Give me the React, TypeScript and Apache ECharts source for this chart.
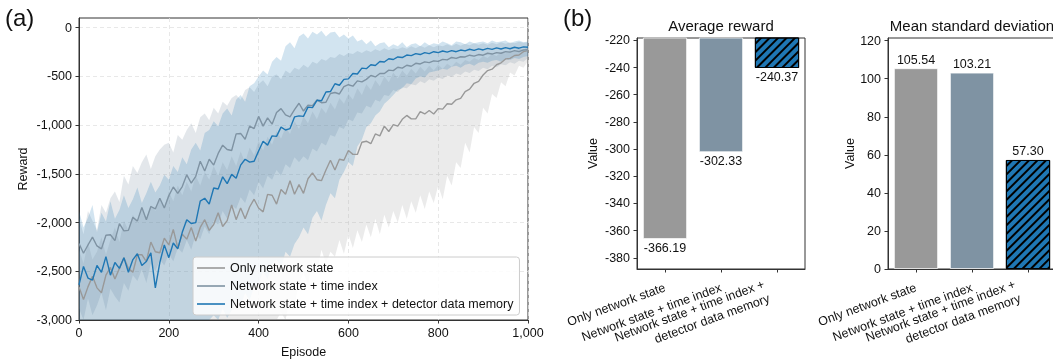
import React, { useEffect, useRef } from 'react';
import * as echarts from 'echarts';

const FONT = '"Liberation Sans", Arial, Helvetica, sans-serif';

// Episode sample positions (every 10 episodes)
const episodes = Array.from({ length: 101 }, (_, i) => i * 10);

const seriesNames = [
  'Only network state',
  'Network state + time index',
  'Network state + time index + detector data memory',
];

// Mean reward curves (one value per 10 episodes)
const meanOnlyState = [
  -2660, -2790, -2660, -2550, -2670, -2720, -2540, -2460, -2580, -2470,
  -2360, -2470, -2510, -2330, -2330, -2400, -2200, -2300, -2310, -2160,
  -2230, -2070, -2260, -2120, -2170, -2050, -2190, -2050, -1970, -2080,
  -2020, -1900, -2040, -1980, -1820, -1970, -1850, -1960, -1840, -1760,
  -1850, -1890, -1710, -1720, -1810, -1660, -1710, -1570, -1710, -1610,
  -1700, -1550, -1490, -1560, -1570, -1460, -1360, -1460, -1350, -1360,
  -1260, -1300, -1300, -1175, -1165, -1190, -1090, -1110, -1010, -1065,
  -995, -1010, -940, -900, -935, -935, -860, -885, -850, -885,
  -830, -835, -780, -785, -740, -725, -655, -630, -570, -550,
  -485, -440, -425, -380, -360, -320, -315, -285, -280, -245,
  -235,
];
const meanTimeIndex = [
  -2215, -2315, -2230, -2150, -2240, -2270, -2130, -2125, -2185, -2010,
  -2085, -2080, -1945, -1985, -1845, -1970, -1835, -1860, -1750, -1850,
  -1725, -1635, -1700, -1630, -1510, -1595, -1525, -1370, -1470, -1350,
  -1410, -1290, -1205, -1250, -1260, -1090, -1085, -1145, -1010, -1035,
  -910, -1010, -925, -990, -870, -830, -895, -915, -840, -775,
  -855, -795, -800, -740, -770, -765, -675, -665, -680, -605,
  -585, -600, -545, -555, -530, -490, -505, -470, -470, -435,
  -440, -405, -415, -385, -395, -365, -372, -350, -358, -340,
  -345, -325, -330, -305, -315, -298, -300, -282, -292, -275,
  -282, -262, -270, -255, -262, -245, -250, -235, -245, -228,
  -225,
];
const meanDetector = [
  -2640, -2450, -2570, -2590, -2440, -2510, -2350, -2540, -2410, -2470,
  -2360, -2510, -2380, -2320, -2440, -2400, -2310, -2670, -2410, -2230,
  -2360, -2210, -2270, -2100, -1970, -2010, -2000, -1780, -1750, -1810,
  -1645, -1655, -1530, -1600, -1505, -1545, -1410, -1350, -1380, -1370,
  -1265, -1165, -1205, -1110, -1115, -1020, -1050, -1035, -915, -905,
  -910, -815, -820, -745, -750, -660, -655, -575, -590, -530,
  -525, -470, -475, -415, -420, -380, -387, -346, -352, -318,
  -326, -300, -306, -280, -286, -266, -275, -256, -266, -246,
  -256, -239, -250, -235, -246, -229, -238, -221, -232, -217,
  -228, -212, -222, -206, -218, -204, -216, -200, -210, -196,
  -200,
];

// Shaded spread bands (lower / upper)
const bandOnlyStateLow = [
  -3000, -3000, -3000, -3000, -3000, -3000, -3000, -3000, -3000, -3000,
  -3000, -3000, -3000, -3000, -3000, -3000, -3000, -3000, -3000, -3000,
  -3000, -3000, -3000, -3000, -3000, -3000, -3000, -3000, -3000, -3000,
  -3000, -3000, -3000, -3000, -3000, -3000, -3000, -3000, -3000, -3000,
  -3000, -3000, -3000, -3000, -3000, -2920, -3000, -2780, -2850, -2620,
  -2520, -2640, -2380, -2500, -2280, -2420, -2300, -2350, -2180, -2320,
  -2120, -2260, -2080, -2200, -2020, -2150, -1960, -2120, -1920, -2050,
  -1880, -2000, -1820, -1960, -1780, -1900, -1720, -1860, -1680, -1800,
  -1620, -1760, -1520, -1620, -1380, -1440, -1180, -1280, -1020, -1080,
  -820, -880, -680, -720, -560, -600, -460, -490, -390, -410,
  -340,
];
const bandOnlyStateHigh = [
  -2280, -2420, -2200, -2380, -2300, -2150, -2330, -2180, -2050, -2200,
  -1980, -2080, -1920, -2010, -1870, -1960, -1820, -1880, -1760, -1850,
  -1680, -1780, -1620, -1720, -1580, -1680, -1520, -1620, -1480, -1560,
  -1420, -1520, -1380, -1460, -1320, -1420, -1270, -1380, -1230, -1310,
  -1160, -1260, -1120, -1200, -1060, -1140, -1020, -1090, -960, -1040,
  -910, -980, -860, -940, -820, -880, -770, -840, -720, -780,
  -680, -740, -620, -690, -580, -640, -540, -600, -500, -560,
  -460, -520, -440, -490, -420, -470, -400, -450, -390, -440,
  -380, -420, -370, -400, -350, -380, -330, -350, -310, -330,
  -290, -310, -270, -290, -250, -265, -230, -245, -210, -225,
  -190,
];
const bandTimeIndexLow = [
  -2880, -3000, -2780, -2950, -2850, -2720, -2900, -2680, -2760, -2820,
  -2620, -2700, -2540, -2600, -2480, -2620, -2420, -2500, -2380, -2440,
  -2320, -2400, -2260, -2310, -2180, -2280, -2120, -2170, -2040, -2120,
  -1980, -2020, -1880, -1960, -1820, -1860, -1740, -1800, -1660, -1720,
  -1580, -1650, -1520, -1560, -1460, -1520, -1400, -1440, -1330, -1380,
  -1320, -1360, -1240, -1270, -1180, -1210, -1100, -1120, -1020, -1040,
  -940, -960, -870, -880, -800, -820, -740, -760, -690, -700,
  -640, -660, -610, -620, -580, -590, -550, -570, -530, -545,
  -510, -525, -490, -505, -470, -485, -450, -465, -430, -445,
  -410, -425, -390, -405, -375, -385, -355, -370, -340, -350,
  -310,
];
const bandTimeIndexHigh = [
  -1950, -2120, -1880, -1980, -2080, -1820, -1900, -1750, -1680, -1790,
  -1520, -1610, -1420, -1490, -1380, -1300, -1450, -1320, -1250, -1200,
  -1180, -1280, -1100, -1150, -1050, -980, -1080, -920, -880, -950,
  -820, -880, -760, -800, -720, -690, -740, -640, -610, -660,
  -580, -540, -600, -500, -480, -530, -440, -470, -410, -430,
  -380, -410, -350, -370, -320, -340, -300, -310, -270, -290,
  -260, -270, -240, -260, -230, -250, -220, -240, -210, -230,
  -210, -220, -200, -215, -190, -210, -185, -205, -180, -200,
  -180, -190, -170, -190, -165, -185, -165, -180, -160, -175,
  -160, -175, -155, -170, -150, -165, -150, -160, -145, -155,
  -150,
];
const bandDetectorLow = [
  -3000, -3000, -3000, -3000, -3000, -3000, -3000, -3000, -3000, -3000,
  -3000, -3000, -3000, -3000, -3000, -3000, -3000, -3000, -3000, -3000,
  -3000, -3000, -3000, -3000, -3000, -3000, -3000, -3000, -3000, -3000,
  -2950, -3000, -2880, -2980, -2900, -2780, -2850, -2720, -2800, -2650,
  -2620, -2500, -2580, -2420, -2380, -2460, -2300, -2350, -2220, -2150,
  -2050, -2120, -1950, -1880, -1980, -1820, -1700, -1750, -1560, -1480,
  -1380, -1420, -1220, -1150, -1020, -980, -900, -860, -780, -740,
  -690, -640, -620, -570, -580, -520, -500, -510, -460, -450,
  -440, -420, -430, -400, -390, -410, -380, -370, -390, -360,
  -350, -360, -340, -330, -350, -320, -330, -310, -320, -300,
  -290,
];
const bandDetectorHigh = [
  -1880, -2050, -1950, -1820, -2100, -1900, -1990, -1780, -1960, -1870,
  -1720, -1850, -1760, -1640, -1800, -1700, -1580, -1690, -1620, -1510,
  -1560, -1420, -1480, -1330, -1400, -1250, -1180, -1260, -1080, -1050,
  -960, -1010, -880, -830, -900, -740, -690, -760, -600, -570,
  -500, -440, -480, -350, -300, -340, -190, -150, -210, -90,
  -60, -110, -40, -70, -30, -90, -50, -40, -100, -70,
  -110, -80, -140, -120, -170, -130, -190, -160, -150, -200,
  -170, -190, -150, -200, -170, -160, -190, -150, -180, -160,
  -170, -140, -160, -180, -140, -150, -170, -140, -160, -150,
  -140, -160, -130, -150, -140, -130, -160, -140, -130, -150,
  -140,
];

// Tick labels
const rewardTicks = [0, -500, -1000, -1500, -2000, -2500, -3000];
const episodeTicks = [0, 200, 400, 600, 800, 1000];
const avgRewardTicks = [-380, -360, -340, -320, -300, -280, -260, -240, -220];
const stdTicks = [0, 20, 40, 60, 80, 100, 120];

// Bar panel data
const barCategories = [
  'Only network state',
  'Network state + time index',
  'Network state + time index +\ndetector data memory',
];
const avgReward = [-366.19, -302.33, -240.37];
const meanStd = [105.54, 103.21, 57.3];

const lineColors = ['#999999', '#7f93a3', '#1f77b4'];
const bandColors = ['rgba(153,153,153,0.2)', 'rgba(127,147,163,0.22)', 'rgba(31,119,180,0.2)'];

const fmtThousands = (v: number) => v.toLocaleString('en-US');

function bandSeries(name: string, low: number[], high: number[], fill: string) {
  return {
    type: 'custom',
    name,
    xAxisIndex: 0,
    yAxisIndex: 0,
    silent: true,
    z: 1,
    data: [[0, -1000]],
    renderItem: (_params: any, api: any) => {
      const pts: number[][] = [];
      for (let i = 0; i < episodes.length; i++) pts.push(api.coord([episodes[i], high[i]]));
      for (let i = episodes.length - 1; i >= 0; i--) pts.push(api.coord([episodes[i], low[i]]));
      return { type: 'polygon', shape: { points: pts }, style: { fill, stroke: 'none' } };
    },
  };
}

function lineSeries(name: string, values: number[], color: string) {
  return {
    type: 'line',
    name,
    xAxisIndex: 0,
    yAxisIndex: 0,
    symbol: 'none',
    z: 3,
    data: episodes.map((e, i) => [e, values[i]]),
    lineStyle: { color, width: 1.4 },
    itemStyle: { color },
  };
}

const axisColor = '#333';
const FS = 12.5;
const tickLabel = { fontSize: FS, color: '#111', fontFamily: FONT };

const barItemStyles = [
  { color: '#999999', borderColor: 'rgba(255,255,255,0.7)', borderWidth: 1 },
  { color: '#7f93a3', borderColor: 'rgba(255,255,255,0.7)', borderWidth: 1 },
  {
    color: '#1f77b4',
    borderColor: '#000',
    borderWidth: 1,
    decal: {
      symbol: 'rect',
      symbolSize: 1,
      color: '#000',
      dashArrayX: [1, 0],
      dashArrayY: [1.1, 3.9],
      rotation: -Math.PI / 4,
    },
  },
];

function barXAxis(gridIndex: number) {
  return {
    gridIndex,
    type: 'category',
    data: barCategories.map((c) =>
      c.indexOf('\n') >= 0 ? { value: c, textStyle: { padding: [11, 11, 0, 0] } } : c,
    ),
    axisLine: { show: true, lineStyle: { color: axisColor } },
    axisTick: { show: true, alignWithLabel: true, length: 3.5, lineStyle: { color: axisColor } },
    axisLabel: { ...tickLabel, rotate: 20, margin: 18, interval: 0, lineHeight: 15 },
    splitLine: { show: false },
  };
}

const gridBase = { show: true, borderColor: axisColor, borderWidth: 1, containLabel: false, outerBoundsMode: 'none' };

export default function App() {
  const ref = useRef<HTMLDivElement>(null);
  useEffect(() => {
    if (!ref.current) return;
    const chart = echarts.init(ref.current, undefined, { renderer: 'svg' });
    const option: any = {
      animation: false,
      textStyle: { fontFamily: FONT },
      grid: [
        { ...gridBase, left: 79, top: 18, width: 449, height: 302 },
        { ...gridBase, left: 637, top: 38, width: 168, height: 231 },
        { ...gridBase, left: 888, top: 38, width: 168, height: 231 },
      ],
      xAxis: [
        {
          gridIndex: 0,
          type: 'value',
          min: 0,
          max: 1000,
          interval: 200,
          name: 'Episode',
          nameLocation: 'middle',
          nameGap: 25,
          nameTextStyle: { fontSize: FS, color: '#111', fontFamily: FONT },
          axisLine: { show: true, onZero: false, lineStyle: { color: axisColor } },
          axisTick: { show: true, length: 3.5, lineStyle: { color: axisColor }, customValues: episodeTicks },
          axisLabel: { ...tickLabel, margin: 6, customValues: episodeTicks, formatter: (v: number) => fmtThousands(v) },
          splitLine: { show: true, lineStyle: { color: '#e2e2e2', type: [4, 3], width: 0.8 } },
        },
        barXAxis(1),
        barXAxis(2),
      ],
      yAxis: [
        {
          gridIndex: 0,
          type: 'value',
          min: -3000,
          max: 100,
          interval: 500,
          name: 'Reward',
          nameLocation: 'middle',
          nameGap: 50,
          nameTextStyle: { fontSize: FS, color: '#111', fontFamily: FONT },
          axisLine: { show: true, lineStyle: { color: axisColor } },
          axisTick: { show: true, length: 3.5, lineStyle: { color: axisColor }, customValues: rewardTicks },
          axisLabel: { ...tickLabel, margin: 7, customValues: rewardTicks, formatter: (v: number) => fmtThousands(v) },
          splitLine: { show: true, lineStyle: { color: '#e2e2e2', type: [4, 3], width: 0.8 } },
        },
        {
          gridIndex: 1,
          type: 'value',
          min: -388.2,
          max: -218.3,
          name: 'Value',
          nameLocation: 'middle',
          nameGap: 38,
          nameTextStyle: { fontSize: FS, color: '#111', fontFamily: FONT },
          axisLine: { show: true, lineStyle: { color: axisColor } },
          axisTick: { show: true, length: 3.5, lineStyle: { color: axisColor }, customValues: avgRewardTicks },
          axisLabel: { ...tickLabel, margin: 7, customValues: avgRewardTicks },
          splitLine: { show: false },
        },
        {
          gridIndex: 2,
          type: 'value',
          min: 0,
          max: 121.4,
          name: 'Value',
          nameLocation: 'middle',
          nameGap: 32,
          nameTextStyle: { fontSize: FS, color: '#111', fontFamily: FONT },
          axisLine: { show: true, lineStyle: { color: axisColor } },
          axisTick: { show: true, length: 3.5, lineStyle: { color: axisColor }, customValues: stdTicks },
          axisLabel: { ...tickLabel, margin: 7, customValues: stdTicks },
          splitLine: { show: false },
        },
      ],
      legend: {
        data: seriesNames,
        orient: 'vertical',
        left: 193,
        top: 257,
        icon: 'rect',
        padding: [4, 6, 4, 4],
        itemGap: 4,
        itemWidth: 28,
        itemHeight: 1.6,
        backgroundColor: 'rgba(255,255,255,0.85)',
        borderColor: '#cccccc',
        borderWidth: 1,
        borderRadius: 3,
        textStyle: { fontSize: FS, color: '#111', fontFamily: FONT, lineHeight: 14 },
      },
      graphic: [
        { type: 'text', left: 5, top: 5, style: { text: '(a)', font: `24px ${FONT}`, fill: '#111' } },
        { type: 'text', left: 563, top: 5, style: { text: '(b)', font: `24px ${FONT}`, fill: '#111' } },
        {
          type: 'text', x: 721, y: 25,
          style: { text: 'Average reward', font: `15px ${FONT}`, fill: '#111', textAlign: 'center', textVerticalAlign: 'middle' },
        },
        {
          type: 'text', x: 972, y: 25,
          style: { text: 'Mean standard deviation', font: `15px ${FONT}`, fill: '#111', textAlign: 'center', textVerticalAlign: 'middle' },
        },
      ],
      series: [
        bandSeries('band-only', bandOnlyStateLow, bandOnlyStateHigh, bandColors[0]),
        bandSeries('band-time', bandTimeIndexLow, bandTimeIndexHigh, bandColors[1]),
        bandSeries('band-detector', bandDetectorLow, bandDetectorHigh, bandColors[2]),
        lineSeries(seriesNames[0], meanOnlyState, lineColors[0]),
        lineSeries(seriesNames[1], meanTimeIndex, lineColors[1]),
        lineSeries(seriesNames[2], meanDetector, lineColors[2]),
        {
          type: 'bar',
          xAxisIndex: 1,
          yAxisIndex: 1,
          barWidth: '79%',
          data: avgReward.map((v, i) => ({ value: v, itemStyle: barItemStyles[i] })),
          label: {
            show: true, position: 'bottom', distance: 2, fontSize: FS, color: '#111', fontFamily: FONT,
            formatter: (p: any) => Number(p.value).toFixed(2),
          },
        },
        {
          type: 'bar',
          xAxisIndex: 2,
          yAxisIndex: 2,
          barWidth: '79%',
          data: meanStd.map((v, i) => ({ value: v, itemStyle: barItemStyles[i] })),
          label: {
            show: true, position: 'top', distance: 2, fontSize: FS, color: '#111', fontFamily: FONT,
            formatter: (p: any) => Number(p.value).toFixed(2),
          },
        },
      ],
    };
    chart.setOption(option);
    return () => chart.dispose();
  }, []);
  return <div ref={ref} style={{ position: 'fixed', left: 0, top: 0, width: 1053, height: 360 }} />;
}
